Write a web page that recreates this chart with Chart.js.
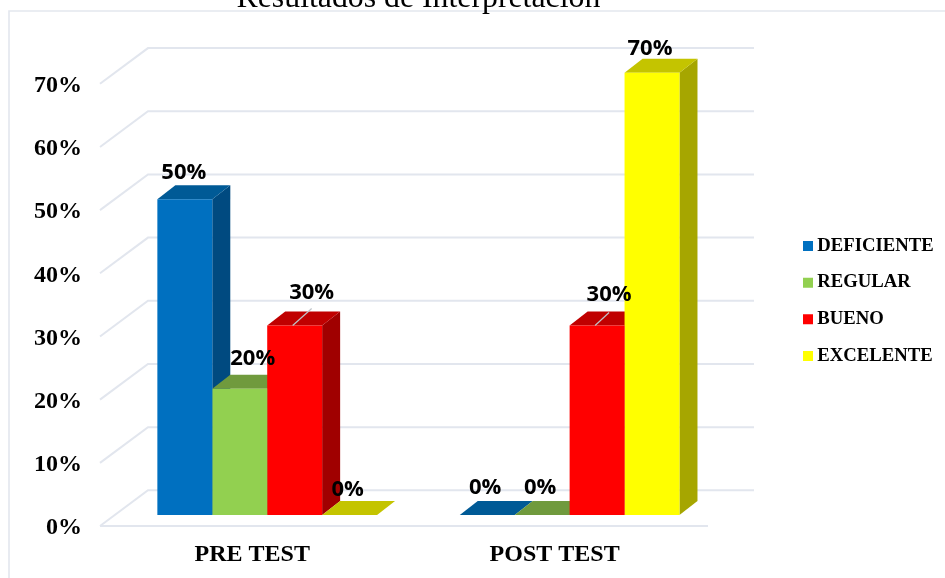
<!DOCTYPE html>
<html>
<head>
<meta charset="utf-8">
<style>html,body{margin:0;padding:0;background:#fff;overflow:hidden}canvas{display:block}</style>
<script src="https://cdn.jsdelivr.net/npm/chart.js@4"></script>
</head>
<body>
<div style="width:945px;height:578px"><canvas id="c" width="945" height="578"></canvas></div>
<script>
const categories = ['PRE TEST', 'POST TEST'];
const seriesNames = ['DEFICIENTE', 'REGULAR', 'BUENO', 'EXCELENTE'];
const deficiente = [50, 0];
const regular = [20, 0];
const bueno = [30, 30];
const excelente = [0, 70];
const yTicks = [0, 10, 20, 30, 40, 50, 60, 70];

const frontColors = ['#0070C0', '#92D050', '#FF0000', '#FFFF00'];
const topColors = ['#005A96', '#709A3D', '#C00000', '#C4C400'];
const sideColors = ['#004A80', '#5E8232', '#A00000', '#A6A600'];
// label nudges relative to the bar centre/top [dx, dy], per series and category
const labelNudge = [[[-1, -26], [-2, -27]], [[13, -30], [-2, -27]], [[17, -33], [12, -31]], [[-2, -25], [-2, -24.5]]];
const leaderEnd = [null, null, [[17, -17], [12, -13]], null];

const DX = 18, DY = 14;
const serif = '"Liberation Serif","Times New Roman",serif';

const threeD = {
  id: 'threeD',
  afterLayout(chart) {
    const l = chart.legend;
    const w = l.right - l.left;
    l.left = 790; l.right = l.left + w;
    l.top += 12; l.bottom += 12;
  },
  beforeDraw(chart) {
    const c = chart.ctx;
    c.save();
    c.fillStyle = '#fff';
    c.fillRect(0, 0, chart.width, chart.height);
    c.strokeStyle = '#E3E7EE';
    c.lineWidth = 1.6;
    c.beginPath();
    c.moveTo(9, 578); c.lineTo(9, 11); c.lineTo(945, 11);
    c.stroke();
    c.restore();
  },
  beforeDatasetsDraw(chart) {
    const c = chart.ctx, y = chart.scales.y;
    c.save();
    c.strokeStyle = '#E2E6EE';
    c.lineWidth = 2;
    c.beginPath();
    yTicks.forEach(v => {
      const p = y.getPixelForValue(v);
      c.moveTo(100, p);
      c.lineTo(148, p - 35.7);
      c.lineTo(754, p - 35.7);
    });
    const f = y.getPixelForValue(0);
    c.moveTo(100, f);
    c.lineTo(708, f);
    c.stroke();
    // side and top faces of the bars, series by series; the library paints the fronts afterwards
    chart.data.datasets.forEach((ds, i) => {
      chart.getDatasetMeta(i).data.forEach(b => {
        const x1 = b.x - b.width / 2, x2 = b.x + b.width / 2, t = b.y, bs = b.base;
        c.fillStyle = sideColors[i];
        c.beginPath();
        c.moveTo(x2, t); c.lineTo(x2 + DX, t - DY); c.lineTo(x2 + DX, bs - DY); c.lineTo(x2, bs);
        c.closePath(); c.fill();
        c.fillStyle = topColors[i];
        c.beginPath();
        c.moveTo(x1, t); c.lineTo(x1 + DX, t - DY); c.lineTo(x2 + DX, t - DY); c.lineTo(x2, t);
        c.closePath(); c.fill();
      });
    });
    c.restore();
  },
  afterDatasetsDraw(chart) {
    const c = chart.ctx;
    c.save();
    c.font = 'bold 22px "Open Sans", Lato, sans-serif';
    c.fillStyle = '#000';
    c.textAlign = 'center';
    c.textBaseline = 'middle';
    chart.data.datasets.forEach((ds, i) => {
      chart.getDatasetMeta(i).data.forEach((b, j) => {
        const le = leaderEnd[i] && leaderEnd[i][j];
        if (le) {
          c.strokeStyle = '#BFC3C8';
          c.lineWidth = 1.2;
          c.beginPath();
          c.moveTo(b.x - 2, b.y);
          c.lineTo(b.x + le[0], b.y + le[1]);
          c.stroke();
        }
        const n = labelNudge[i][j];
        c.fillText(ds.data[j] + '%', b.x + n[0], b.y + n[1]);
      });
    });
    c.restore();
  }
};

const seriesValues = [deficiente, regular, bueno, excelente];

new Chart(document.getElementById('c'), {
  type: 'bar',
  data: {
    labels: categories,
    datasets: seriesNames.map((name, i) => ({
      label: name,
      data: seriesValues[i],
      yAxisID: 'yb',
      backgroundColor: frontColors[i],
      borderWidth: 0,
      categoryPercentage: 0.7265,
      barPercentage: 1,
      clip: false
    }))
  },
  options: {
    responsive: false,
    animation: false,
    layout: { padding: { left: 0, right: 70.5, top: 0, bottom: 0 } },
    plugins: {
      tooltip: { enabled: false },
      title: {
        display: true,
        text: 'Resultados de Interpretación',
        fullSize: false,
        color: '#000',
        font: { family: serif, size: 31.8, weight: 'normal' },
        padding: { top: -24, bottom: 30.8 }
      },
      legend: {
        display: true,
        position: 'right',
        labels: {
          usePointStyle: true,
          pointStyle: 'rect',
          boxWidth: 0.01,
          boxHeight: 10,
          padding: 18,
          color: '#000',
          font: { family: serif, size: 18.7, weight: 'bold' }
        }
      }
    },
    scales: {
      x: {
        grid: { display: false },
        border: { display: false },
        afterFit(s) { s.height = 52; },
        ticks: {
          color: '#000',
          padding: 6,
          labelOffset: -15,
          maxRotation: 0,
          font: { family: serif, size: 24, weight: 'bold' }
        }
      },
      y: {
        min: 0,
        max: 75.6,
        position: 'left',
        grid: { display: false, drawTicks: false },
        border: { display: false },
        afterFit(s) { s.width = 116; },
        afterBuildTicks(s) { s.ticks = yTicks.map(v => ({ value: v })); },
        ticks: {
          color: '#000',
          padding: 34,
          labelOffset: 2,
          callback: v => v + '%',
          font: { family: serif, size: 24, weight: 'bold' }
        }
      },
      yb: {
        display: false,
        min: -1.74,
        max: 73.86
      }
    }
  },
  plugins: [threeD]
});
</script>
</body>
</html>
